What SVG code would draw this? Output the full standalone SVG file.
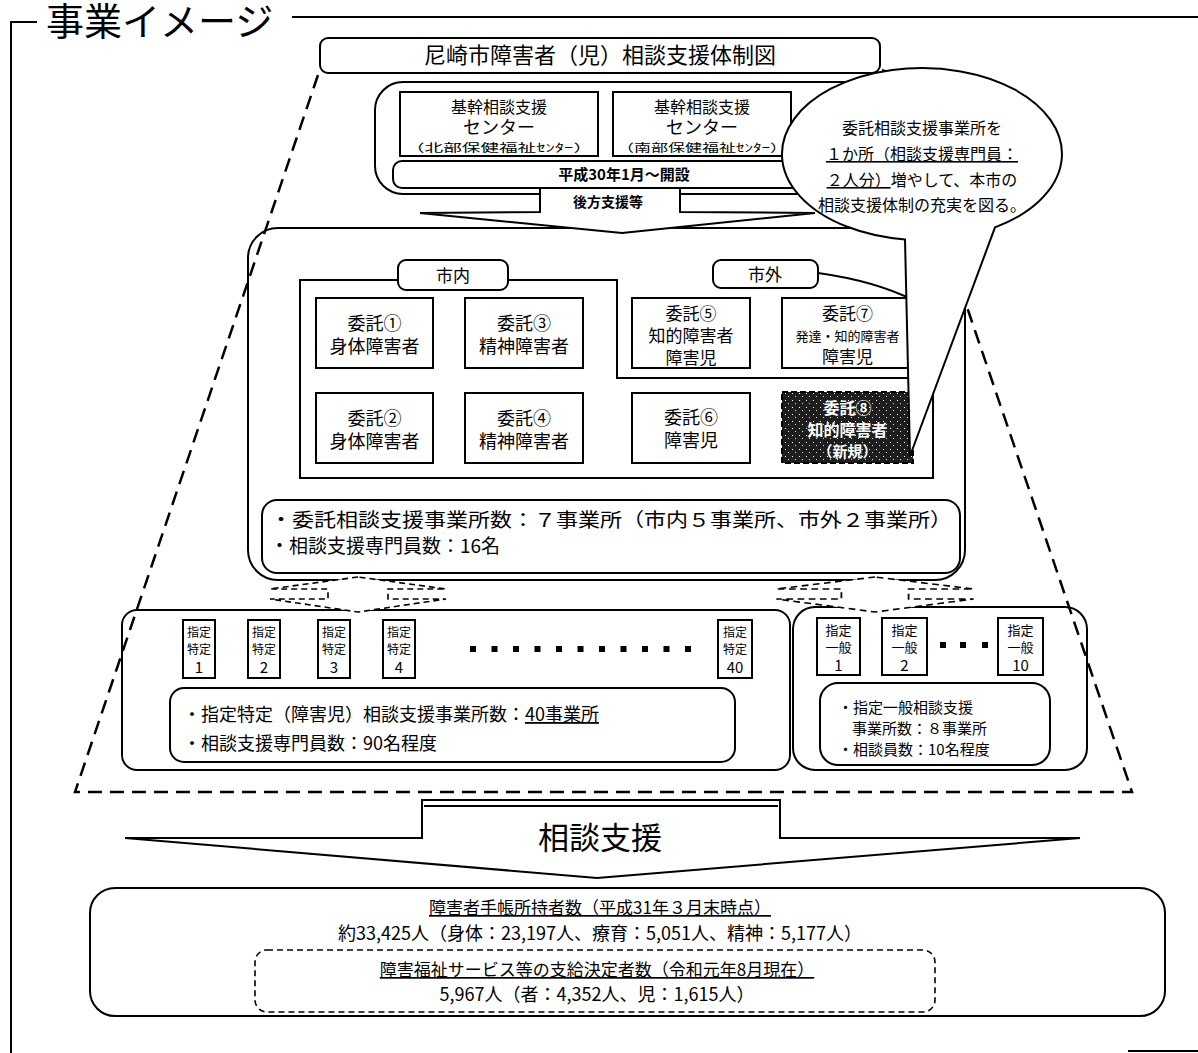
<svg xmlns="http://www.w3.org/2000/svg" width="1198" height="1053" viewBox="0 0 1198 1053">
<defs>
<style>
text{font-family:"Noto Sans CJK JP","Noto Sans CJK SC",sans-serif;fill:#000}
.b{fill:#fff;stroke:#000;stroke-width:2}
.n{fill:none;stroke:#000;stroke-width:2}
.c{text-anchor:middle}
.dash{fill:none;stroke:#000;stroke-width:2.5;stroke-dasharray:14 8}
.sd{fill:#fff;stroke:#000;stroke-width:1.6;stroke-dasharray:6 4}
.u{text-decoration:underline}
.w{fill:#fff}
</style>
<pattern id="noise" width="7" height="7" patternUnits="userSpaceOnUse">
<rect width="7" height="7" fill="#1e1e1e"/>
<rect x="1" y="1" width="1" height="1" fill="#fff"/>
<rect x="4" y="4" width="1" height="1" fill="#ddd"/>
</pattern>
<path id="ud" d="M0 -18 L-88 -6 L-30 -6 L-30 4 L-88 4 L0 17 L88 4 L30 4 L30 -6 L88 -6 Z"/>
</defs>

<g id="header">
<path d="M11 1053 V22 H37" class="n" stroke-width="2.5"/>
<text x="46" y="35" font-size="38">事業イメージ</text>
<path d="M292 17 H1198" class="n" stroke-width="2.5"/>
<path d="M1128 1051 H1198" class="n" stroke-width="2.5"/>
</g>

<g id="title">
<rect x="320" y="38" width="560" height="35" rx="8" class="b" stroke-width="2.5"/>
<text x="600" y="63" class="c" font-size="22">尼崎市障害者（児）相談支援体制図</text>
<path d="M882 70 L889 72 L890 80" class="n" stroke-width="1.5"/>
</g>

<g id="kikan-outer">
<rect x="375" y="82" width="497" height="112" rx="28" class="b"/>
</g>
<g id="kikan-north">
<rect x="400" y="92" width="198" height="64" class="b"/>
<text x="499" y="113" class="c" font-size="16">基幹相談支援</text>
<text x="499" y="134" class="c" font-size="18">センター</text>
<text x="499" y="152" class="c" font-size="11" textLength="186" lengthAdjust="spacingAndGlyphs">（北部保健福祉ｾﾝﾀｰ）</text>
</g>
<g id="kikan-south">
<rect x="613" y="92" width="178" height="64" class="b"/>
<text x="702" y="113" class="c" font-size="16">基幹相談支援</text>
<text x="702" y="134" class="c" font-size="18">センター</text>
<text x="702" y="152" class="c" font-size="11" textLength="170" lengthAdjust="spacingAndGlyphs">（南部保健福祉ｾﾝﾀｰ）</text>
</g>

<g id="middle-box">
<rect x="248" y="228" width="717" height="352" rx="30" class="b"/>
</g>

<g id="arrow-koho">
<polygon points="540,186 540,212 420,213 622,233 815,213 680,212 680,186" class="b" stroke-width="1.6"/>
<text x="608" y="207" class="c" font-size="14" font-weight="bold">後方支援等</text>
</g>

<g id="bar">
<rect x="393" y="161" width="462" height="27" rx="9" class="b"/>
<text x="624" y="180" class="c" font-size="15" font-weight="bold">平成30年1月～開設</text>
</g>

<g id="panels">
<polygon points="300,280 617,280 617,378 933,378 933,478 300,478" class="n"/>
<path d="M818 273 Q875 281 913 300 V378" class="n"/>
</g>
<g id="label-shinai">
<rect x="398" y="260" width="110" height="30" rx="8" class="b"/>
<text x="453" y="282" class="c" font-size="17">市内</text>
</g>
<g id="label-shigai">
<rect x="713" y="260" width="105" height="28" rx="8" class="b"/>
<text x="765" y="281" class="c" font-size="17">市外</text>
</g>

<g id="itaku1">
<rect x="316" y="298" width="117" height="70" class="b"/>
<text x="374.5" y="330" class="c" font-size="18">委託①</text>
<text x="374.5" y="353" class="c" font-size="18">身体障害者</text>
</g>
<g id="itaku3">
<rect x="465" y="298" width="118" height="70" class="b"/>
<text x="524" y="330" class="c" font-size="18">委託③</text>
<text x="524" y="353" class="c" font-size="18">精神障害者</text>
</g>
<g id="itaku2">
<rect x="316" y="393" width="117" height="70" class="b"/>
<text x="374.5" y="425" class="c" font-size="18">委託②</text>
<text x="374.5" y="448" class="c" font-size="18">身体障害者</text>
</g>
<g id="itaku4">
<rect x="465" y="393" width="118" height="70" class="b"/>
<text x="524" y="425" class="c" font-size="18">委託④</text>
<text x="524" y="448" class="c" font-size="18">精神障害者</text>
</g>
<g id="itaku5">
<rect x="632" y="298" width="118" height="70" class="b"/>
<text x="691" y="320" class="c" font-size="17">委託⑤</text>
<text x="691" y="342" class="c" font-size="17">知的障害者</text>
<text x="691" y="364" class="c" font-size="17">障害児</text>
</g>
<g id="itaku7">
<rect x="782" y="298" width="131" height="70" class="b"/>
<text x="847.5" y="320" class="c" font-size="17">委託⑦</text>
<text x="847.5" y="341" class="c" font-size="13">発達・知的障害者</text>
<text x="847.5" y="363" class="c" font-size="17">障害児</text>
</g>
<g id="itaku6">
<rect x="632" y="393" width="118" height="70" class="b"/>
<text x="691" y="424" class="c" font-size="18">委託⑥</text>
<text x="691" y="447" class="c" font-size="18">障害児</text>
</g>
<g id="itaku8">
<rect x="782" y="392" width="131" height="71" fill="url(#noise)" stroke="#000" stroke-width="2" stroke-dasharray="6 3"/>
<text x="847.5" y="414" class="c w" font-size="16" font-weight="bold">委託⑧</text>
<text x="847.5" y="436" class="c w" font-size="16" font-weight="bold">知的障害者</text>
<text x="847.5" y="457" class="c w" font-size="15" font-weight="bold">（新規）</text>
</g>

<g id="itaku-info">
<rect x="262" y="500" width="698" height="73" rx="15" class="b"/>
<text x="270" y="527" font-size="19" textLength="682" lengthAdjust="spacingAndGlyphs">・委託相談支援事業所数：７事業所（市内５事業所、市外２事業所）</text>
<text x="270" y="553" font-size="19">・相談支援専門員数：16名</text>
</g>

<g id="lower-left">
<rect x="122" y="610" width="668" height="160" rx="15" class="b"/>
<g id="tokutei1"><rect x="183" y="620" width="32" height="58" class="b"/>
<text x="199" y="637" class="c" font-size="12">指定</text><text x="199" y="654" class="c" font-size="12">特定</text><text x="199" y="673" class="c" font-size="15">1</text></g>
<g id="tokutei2"><rect x="248" y="620" width="32" height="58" class="b"/>
<text x="264" y="637" class="c" font-size="12">指定</text><text x="264" y="654" class="c" font-size="12">特定</text><text x="264" y="673" class="c" font-size="15">2</text></g>
<g id="tokutei3"><rect x="318" y="620" width="32" height="58" class="b"/>
<text x="334" y="637" class="c" font-size="12">指定</text><text x="334" y="654" class="c" font-size="12">特定</text><text x="334" y="673" class="c" font-size="15">3</text></g>
<g id="tokutei4"><rect x="383" y="620" width="32" height="58" class="b"/>
<text x="399" y="637" class="c" font-size="12">指定</text><text x="399" y="654" class="c" font-size="12">特定</text><text x="399" y="673" class="c" font-size="15">4</text></g>
<g id="tokutei40"><rect x="718" y="620" width="34" height="58" class="b"/>
<text x="735" y="637" class="c" font-size="12">指定</text><text x="735" y="654" class="c" font-size="12">特定</text><text x="735" y="673" class="c" font-size="15">40</text></g>
<g id="dots1" fill="#000">
<rect x="470" y="646" width="6" height="6"/><rect x="491.5" y="646" width="6" height="6"/><rect x="513" y="646" width="6" height="6"/><rect x="534.5" y="646" width="6" height="6"/><rect x="556" y="646" width="6" height="6"/><rect x="577.5" y="646" width="6" height="6"/><rect x="599" y="646" width="6" height="6"/><rect x="620.5" y="646" width="6" height="6"/><rect x="642" y="646" width="6" height="6"/><rect x="663.5" y="646" width="6" height="6"/><rect x="685" y="646" width="6" height="6"/>
</g>
<rect x="170" y="688" width="565" height="74" rx="14" class="b"/>
<text x="183" y="721" font-size="18">・指定特定（障害児）相談支援事業所数：<tspan class="u">40事業所</tspan></text>
<text x="183" y="750" font-size="18">・相談支援専門員数：90名程度</text>
</g>

<g id="lower-right">
<rect x="793" y="607" width="294" height="163" rx="22" class="b"/>
<g id="ippan1"><rect x="817" y="618" width="43" height="57" class="b"/>
<text x="838.5" y="635" class="c" font-size="13">指定</text><text x="838.5" y="652" class="c" font-size="13">一般</text><text x="838.5" y="671" class="c" font-size="15">1</text></g>
<g id="ippan2"><rect x="882" y="618" width="45" height="57" class="b"/>
<text x="904.5" y="635" class="c" font-size="13">指定</text><text x="904.5" y="652" class="c" font-size="13">一般</text><text x="904.5" y="671" class="c" font-size="15">2</text></g>
<g id="ippan10"><rect x="998" y="618" width="45" height="57" class="b"/>
<text x="1020.5" y="635" class="c" font-size="13">指定</text><text x="1020.5" y="652" class="c" font-size="13">一般</text><text x="1020.5" y="671" class="c" font-size="15">10</text></g>
<g id="dots2" fill="#000"><rect x="940" y="642" width="6" height="6"/><rect x="960" y="642" width="6" height="6"/><rect x="982" y="642" width="6" height="6"/></g>
<rect x="820" y="683" width="230" height="82" rx="18" class="b"/>
<text x="838" y="713" font-size="15">・指定一般相談支援</text>
<text x="852" y="734" font-size="15">事業所数：８事業所</text>
<text x="838" y="755" font-size="15">・相談員数：10名程度</text>
</g>

<g id="connectors">
<use href="#ud" transform="translate(358,595)" class="sd"/>
<use href="#ud" transform="translate(875,595) scale(1.12,1)" class="sd"/>
</g>

<g id="trapezoid">
<path class="dash" d="M318 75 L75 792 H1132 L888 75"/>
</g>

<g id="arrow-sodan">
<polygon points="422,800 422,838 125,838 597,878 1080,838 780,838 780,800" class="b" stroke-width="1.8"/>
<path d="M422 800 H780" class="n" stroke-width="4"/>
<path d="M424 806 H778" class="n" stroke-width="1.2"/>
<text x="600" y="849" class="c" font-size="31">相談支援</text>
</g>

<g id="bottom-box">
<rect x="90" y="888" width="1075" height="128" rx="25" class="b" stroke-width="2.5"/>
<text x="600" y="914" class="c u" font-size="17">障害者手帳所持者数（平成31年３月末時点）</text>
<text x="600" y="940" class="c" font-size="18">約33,425人（身体：23,197人、療育：5,051人、精神：5,177人）</text>
<rect x="255" y="950" width="680" height="62" rx="12" class="sd"/>
<text x="597" y="976" class="c u" font-size="17">障害福祉サービス等の支給決定者数（令和元年8月現在）</text>
<text x="597" y="1001" class="c" font-size="18">5,967人（者：4,352人、児：1,615人）</text>
</g>

<g id="callout">
<path d="M995 227.4 A140 86 0 1 0 905 239.4 L910 456 Z" class="b" stroke-width="2"/>
<text x="922" y="134" class="c" font-size="16">委託相談支援事業所を</text>
<text x="922" y="160" class="c u" font-size="16">１か所（相談支援専門員：</text>
<text x="922" y="186" class="c" font-size="16"><tspan class="u">２人分）</tspan>増やして、本市の</text>
<text x="922" y="211" class="c" font-size="16">相談支援体制の充実を図る。</text>
</g>
</svg>
